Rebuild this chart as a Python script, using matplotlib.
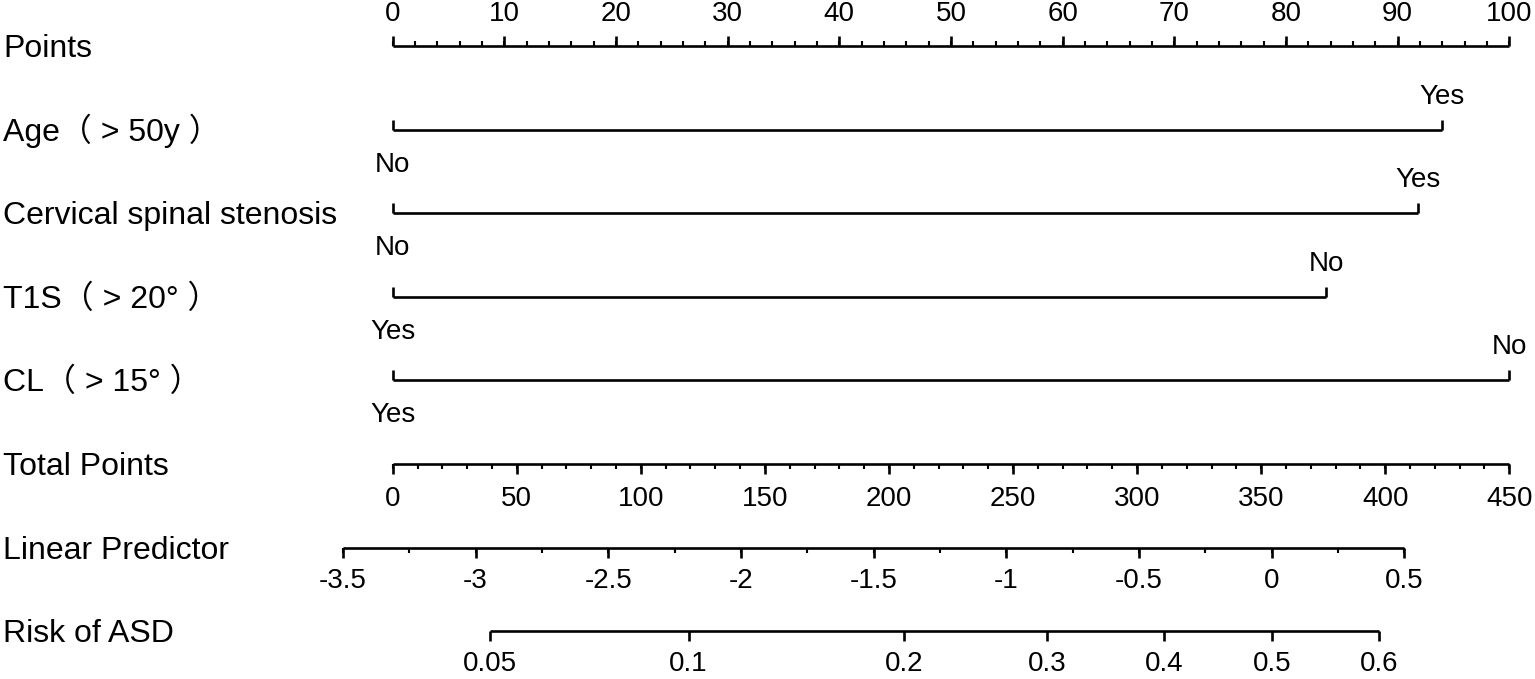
import matplotlib
matplotlib.use('Agg')
import matplotlib.pyplot as plt
import matplotlib.transforms as mtransforms
import numpy as np

plt.rcParams['font.family'] = ['Liberation Sans', 'Noto Sans CJK SC', 'DejaVu Sans']

# row labels
row_labels = ['Points', 'Age（ > 50y ）', 'Cervical spinal stenosis', 'T1S（ > 20° ）',
              'CL（ > 15° ）', 'Total Points', 'Linear Predictor', 'Risk of ASD']

# categorical predictors: (left level, left points, right level, right points)
age = ('No', 0, 'Yes', 94.0)
cervical = ('No', 0, 'Yes', 91.8)
t1s = ('Yes', 0, 'No', 83.6)
cl = ('Yes', 0, 'No', 100.0)
predictors = [age, cervical, t1s, cl]

points_ticks = np.arange(0, 101, 10)
total_ticks = np.arange(0, 451, 50)
lp_ticks = [-3.5, -3, -2.5, -2, -1.5, -1, -0.5, 0, 0.5]
risk_ticks = [0.05, 0.1, 0.2, 0.3, 0.4, 0.5, 0.6]

# linear predictor at total points 0 and 450
lp_at0 = -3.312
lp_at450 = 0.895


def tp2pts(tp):
    return np.asarray(tp) / 4.5


def lp2pts(lp):
    return tp2pts((np.asarray(lp) - lp_at0) / (lp_at450 - lp_at0) * 450)


def risk2pts(p):
    p = np.asarray(p)
    return lp2pts(np.log(p / (1 - p)))


W, H = 1535, 679
fig = plt.figure(figsize=(W / 100, H / 100), dpi=100)
x0, x1 = 392.7, 1509.3
ax = fig.add_axes([x0 / W, 0, (x1 - x0) / W, 1])
ax.set_xlim(0, 100)
ax.set_ylim(H, 0)
ax.axis('off')

rows = [46, 130, 213, 297, 380, 464, 548, 631]
lw = 1.9
fs_tick = 20
fs_lab = 23
big, small = 10, 5

# left labels
tr = mtransforms.blended_transform_factory(fig.transFigure, ax.transData)
for lab, y in zip(row_labels, rows):
    ax.text(3 / W, y + 11, lab, transform=tr, fontsize=fs_lab, ha='left', va='baseline')

# Points axis (ticks up)
y = rows[0]
ax.plot([0, 100], [y, y], color='black', lw=lw, clip_on=False, solid_capstyle='butt')
minor = np.arange(0, 101, 2)
ax.vlines(minor, y - small, y, color='black', lw=lw * 0.8, clip_on=False)
ax.vlines(points_ticks, y - big, y, color='black', lw=lw, clip_on=False)
for t in points_ticks:
    ax.text(t, 14, str(t), fontsize=fs_tick, ha='center', va='center', clip_on=False)

# categorical predictors
for (ll, lv, rl, rv), y in zip(predictors, rows[1:5]):
    ax.plot([lv, rv], [y, y], color='black', lw=lw, clip_on=False, solid_capstyle='butt')
    ax.vlines([lv, rv], y - big, y, color='black', lw=lw, clip_on=False)
    ax.text(lv, y + 35, ll, fontsize=fs_tick, ha='center', va='center', clip_on=False)
    ax.text(rv, y - 33, rl, fontsize=fs_tick, ha='center', va='center', clip_on=False)

# Total points (ticks down)
y = rows[5]
ax.plot([0, 100], [y, y], color='black', lw=lw, clip_on=False, solid_capstyle='butt')
ax.vlines(tp2pts(np.arange(0, 451, 10)), y, y + small, color='black', lw=lw * 0.8, clip_on=False)
ax.vlines(tp2pts(total_ticks), y, y + big, color='black', lw=lw, clip_on=False)
for t in total_ticks:
    ax.text(tp2pts(t), y + 35, str(t), fontsize=fs_tick, ha='center', va='center', clip_on=False)

# Linear predictor
y = rows[6]
ax.plot(lp2pts([lp_ticks[0], lp_ticks[-1]]), [y, y], color='black', lw=lw, clip_on=False,
        solid_capstyle='butt')
ax.vlines(lp2pts(np.arange(-3.5, 0.51, 0.25)), y, y + small, color='black', lw=lw * 0.8, clip_on=False)
ax.vlines(lp2pts(lp_ticks), y, y + big, color='black', lw=lw, clip_on=False)
for t in lp_ticks:
    ax.text(lp2pts(t), y + 33, '%g' % t, fontsize=fs_tick, ha='center', va='center', clip_on=False)

# Risk
y = rows[7]
ax.plot(risk2pts([risk_ticks[0], risk_ticks[-1]]), [y, y], color='black', lw=lw, clip_on=False,
        solid_capstyle='butt')
ax.vlines(risk2pts(risk_ticks), y, y + big, color='black', lw=lw, clip_on=False)
for t in risk_ticks:
    ax.text(risk2pts(t), y + 33, '%g' % t, fontsize=fs_tick, ha='center', va='center', clip_on=False)

fig.savefig('out.png', dpi=100)
